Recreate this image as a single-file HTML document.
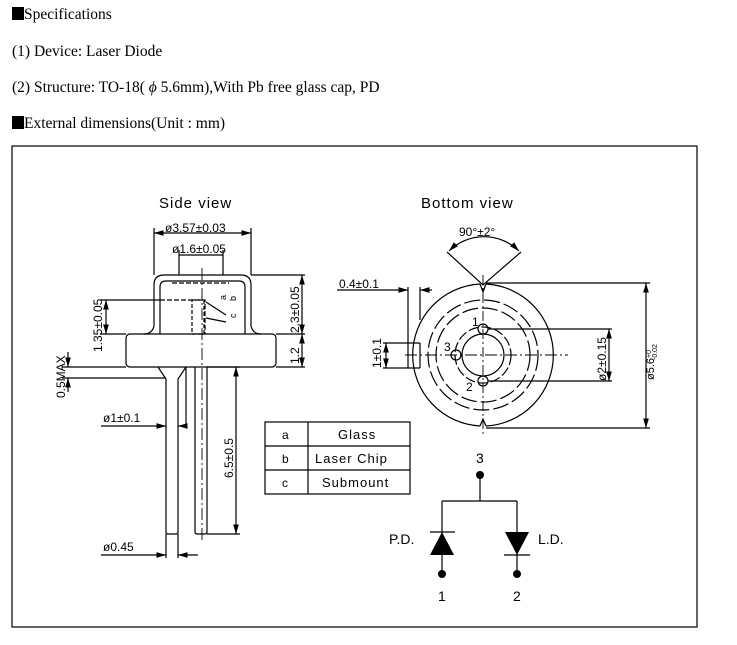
<!DOCTYPE html>
<html><head><meta charset="utf-8"><style>
body{margin:0;background:#fff;width:737px;height:645px;overflow:hidden}
.t{position:absolute;left:12px;font-family:"Liberation Serif",serif;font-size:15.5px;color:#000;white-space:nowrap}
.sq{display:inline-block;width:12px;height:13px;background:#000;vertical-align:-1px}
svg{position:absolute;left:0;top:0}
</style></head><body>
<div class="t" style="top:6px"><span class="sq"></span>Specifications</div>
<div class="t" style="top:43px">(1) Device: Laser Diode</div>
<div class="t" style="top:79px">(2) Structure: TO-18( <i>ϕ</i> 5.6mm),With Pb free glass cap, PD</div>
<div class="t" style="top:115px"><span class="sq"></span>External dimensions(Unit : mm)</div>
<svg width="737" height="645" viewBox="0 0 737 645" font-family="Liberation Sans, sans-serif" font-size="13">
<defs><marker id="a" viewBox="0 0 10 6" refX="10" refY="3" markerWidth="8" markerHeight="5" orient="auto-start-reverse"><path d="M0,0L10,3L0,6z"/></marker></defs>
<g fill="none" stroke="#000" stroke-width="1.2">
<rect x="12" y="146" width="685" height="481"/>
<path d="M144,334 Q152,334 154,326 L154,285 Q154,275 164,275 L241,275 Q251,275 251,285 L251,326 Q253,334 261,334"/>
<path d="M160,334 L160,287 Q160,281 166,281 L239,281 Q245,281 245,287 L245,334"/>
<rect x="126" y="334" width="150" height="33" rx="4"/>
<line x1="172" y1="283" x2="229" y2="283" stroke-dasharray="5,2"/>
<path d="M160,300 L205,300 L205,334" stroke-dasharray="5,2"/>
<rect x="192" y="300" width="12" height="34" stroke-dasharray="4,2"/>
<line x1="206" y1="302" x2="226" y2="315"/><line x1="206" y1="318" x2="226" y2="322"/>
<path d="M158,367 L166,379 L166,532 Q166,534 168,534 L176,534 Q178,534 178,532 L178,379 L186,367"/>
<path d="M195,367 L195,532 Q195,534 197,534 L205,534 Q207,534 207,532 L207,367"/>
<line x1="202" y1="268" x2="202" y2="542" stroke-dasharray="12,3,2,3" stroke-width="0.9"/>
<line x1="154" y1="275" x2="154" y2="228"/><line x1="251" y1="275" x2="251" y2="228"/>
<line x1="154" y1="233" x2="251" y2="233" marker-start="url(#a)" marker-end="url(#a)"/>
<line x1="179" y1="275" x2="179" y2="250"/><line x1="223" y1="275" x2="223" y2="250"/>
<line x1="179" y1="255" x2="223" y2="255"/>
<line x1="251" y1="275" x2="305" y2="275"/><line x1="276" y1="334" x2="305" y2="334"/><line x1="276" y1="367" x2="305" y2="367"/>
<line x1="302" y1="275" x2="302" y2="334" marker-start="url(#a)" marker-end="url(#a)"/>
<line x1="302" y1="334" x2="302" y2="367" marker-start="url(#a)" marker-end="url(#a)"/>
<line x1="100" y1="300" x2="160" y2="300"/><line x1="100" y1="334" x2="126" y2="334"/>
<line x1="106" y1="300" x2="106" y2="334" marker-start="url(#a)" marker-end="url(#a)"/>
<line x1="62" y1="367" x2="126" y2="367"/><line x1="62" y1="378" x2="166" y2="378"/>
<line x1="68" y1="352" x2="68" y2="367" marker-end="url(#a)"/><line x1="68" y1="392" x2="68" y2="378" marker-end="url(#a)"/>
<line x1="207" y1="367" x2="240" y2="367"/><line x1="207" y1="534" x2="240" y2="534"/>
<line x1="236" y1="367" x2="236" y2="534" marker-start="url(#a)" marker-end="url(#a)"/>
<line x1="186" y1="367" x2="186" y2="428"/>
<line x1="101" y1="426" x2="166" y2="426" marker-end="url(#a)"/><line x1="186" y1="426" x2="178" y2="426" marker-end="url(#a)"/>
<line x1="166" y1="534" x2="166" y2="558"/><line x1="178" y1="534" x2="178" y2="558"/>
<line x1="101" y1="555" x2="166" y2="555" marker-end="url(#a)"/><line x1="198" y1="555" x2="178" y2="555" marker-end="url(#a)"/>
<!-- bottom view -->
<path d="M480,284 A71.1,71.1 0 0 0 480,426 M486,426 A71.1,71.1 0 0 0 486,284"/>
<path d="M480,284 L483,292 L486,284 M480,426 L483,419 L486,426"/>
<circle cx="483" cy="355" r="55" stroke-dasharray="16,4"/>
<circle cx="483" cy="355" r="47" stroke-dasharray="16,4"/>
<circle cx="483" cy="355" r="28" stroke-dasharray="10,3"/>
<circle cx="483" cy="355" r="21"/>
<circle cx="483" cy="329" r="5"/><circle cx="483" cy="381" r="5"/><circle cx="456" cy="355" r="5"/>
<line x1="483" y1="275" x2="483" y2="436" stroke-dasharray="10,3,2,3" stroke-width="0.9"/>
<line x1="405" y1="355" x2="568" y2="355" stroke-dasharray="12,3,2,3" stroke-width="0.9"/>
<path d="M447,252 L483,285 L521,252"/>
<path d="M449,251 A50,50 0 0 1 519,251" marker-start="url(#a)" marker-end="url(#a)"/>
<line x1="337" y1="290" x2="399" y2="290"/><line x1="399" y1="290" x2="408" y2="290" marker-end="url(#a)"/><line x1="432" y1="290" x2="420" y2="290" marker-end="url(#a)"/>
<line x1="408" y1="287" x2="408" y2="368"/><line x1="420" y1="287" x2="420" y2="320"/><line x1="420" y1="343" x2="420" y2="368"/>
<line x1="383" y1="343" x2="420" y2="343"/><line x1="383" y1="368" x2="420" y2="368"/>
<line x1="386" y1="343" x2="386" y2="368" marker-start="url(#a)" marker-end="url(#a)"/>
<line x1="488" y1="329" x2="612" y2="329"/><line x1="488" y1="381" x2="612" y2="381"/>
<line x1="609" y1="329" x2="609" y2="381" marker-start="url(#a)" marker-end="url(#a)"/>
<line x1="486" y1="283" x2="650" y2="283"/><line x1="486" y1="428" x2="650" y2="428"/>
<line x1="646" y1="283" x2="646" y2="428" marker-start="url(#a)" marker-end="url(#a)"/>
<rect x="265" y="422" width="145" height="72"/>
<line x1="265" y1="446" x2="410" y2="446"/><line x1="265" y1="470" x2="410" y2="470"/><line x1="308" y1="422" x2="308" y2="494"/>
<path d="M480,474 L480,501 M442,501 L517,501 M442,501 L442,574 M517,501 L517,574 M430,532 L455,532 M504,555 L530,555"/>
</g>
<g fill="#000">
<path d="M442,532 L454,555 L430,555z"/><path d="M517,555 L505,532 L529,532z"/>
<circle cx="480" cy="475" r="4"/><circle cx="442" cy="574" r="4"/><circle cx="517" cy="574" r="4"/>
</g>
<g fill="#000">
<text x="159" y="208" font-size="15" letter-spacing="1">Side  view</text>
<text x="421" y="208" font-size="15" letter-spacing="1">Bottom  view</text>
<text x="165" y="232" font-size="12">ø3.57±0.03</text>
<text x="172" y="253" font-size="12">ø1.6±0.05</text>
<text x="226" y="300" font-size="9" transform="rotate(-90 226 300)">a</text>
<text x="236" y="301" font-size="9" transform="rotate(-90 236 301)">b</text>
<text x="236" y="318" font-size="9" transform="rotate(-90 236 318)">c</text>
<text font-size="12" transform="translate(299,333) rotate(-90)">2.3±0.05</text>
<text font-size="12" transform="translate(299,364) rotate(-90)">1.2</text>
<text font-size="12" transform="translate(102,352) rotate(-90)">1.35±0.05</text>
<text font-size="12" transform="translate(65,398) rotate(-90)">0.5MAX</text>
<text font-size="12" transform="translate(233,478) rotate(-90)">6.5±0.5</text>
<text x="103" y="422" font-size="12">ø1±0.1</text>
<text x="103" y="551" font-size="12">ø0.45</text>
<text x="459" y="236" font-size="12">90°±2°</text>
<text x="339" y="288" font-size="12">0.4±0.1</text>
<text font-size="12" transform="translate(381,368) rotate(-90)">1±0.1</text>
<text x="472" y="326" font-size="12">1</text><text x="444" y="351" font-size="12">3</text><text x="466" y="391" font-size="12">2</text>
<text font-size="12" transform="translate(606,381) rotate(-90)">ø2±0.15</text>
<text font-size="11" transform="translate(654,380) rotate(-90)">ø5.6<tspan font-size="7" dy="-3">+0</tspan><tspan font-size="7" dy="6" dx="-10">-0.02</tspan></text>
<text x="282" y="439" font-size="12">a</text><text x="282" y="463" font-size="12">b</text><text x="282" y="487" font-size="12">c</text>
<text x="338" y="439" font-size="13" letter-spacing="1">Glass</text>
<text x="315" y="463" font-size="13" letter-spacing="1">Laser Chip</text>
<text x="322" y="487" font-size="13" letter-spacing="1">Submount</text>
<text x="476" y="463" font-size="14">3</text>
<text x="389" y="544" font-size="14">P.D.</text><text x="538" y="544" font-size="14">L.D.</text>
<text x="438" y="601" font-size="14">1</text><text x="513" y="601" font-size="14">2</text>
</g>
</svg>
</body></html>
